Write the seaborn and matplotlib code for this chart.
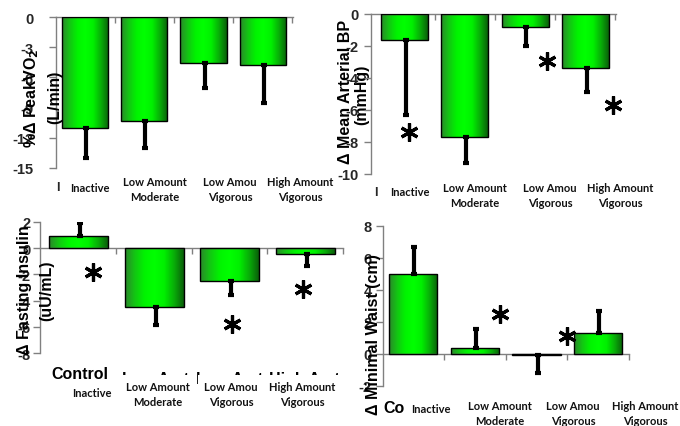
import numpy as np
import matplotlib
matplotlib.use("Agg")
import matplotlib.pyplot as plt
from matplotlib.colors import LinearSegmentedColormap
import seaborn as sns

sns.set_style("white")
plt.rcParams['font.family'] = ['Liberation Sans', 'DejaVu Sans']
plt.rcParams['font.weight'] = 'bold'

# --------------------------
# Data
# --------------------------
groups = ['Inactive', 'Low Amount Moderate', 'Low Amount Vigorous', 'High Amount Vigorous']

vo2 = [-11.0, -10.3, -4.6, -4.8]
vo2_err = [3.0, 2.7, 2.5, 3.7]

mabp = [-1.6, -7.7, -0.8, -3.4]
mabp_err = [4.7, 1.6, 1.2, 1.5]

insulin = [0.9, -4.5, -2.5, -0.45]
insulin_err = [1.05, 1.4, 1.1, 0.9]

waist = [5.0, 0.4, -0.05, 1.3]
waist_err = [1.7, 1.15, 1.15, 1.4]

W, H = 680, 427
fig = plt.figure(figsize=(W / 100, H / 100), dpi=100)

green = LinearSegmentedColormap.from_list(
    'bar_green', ['#2a8a2a', '#12c812', '#00f400', '#00ff00', '#00f000', '#08b008', '#0a620a'])


def fx(x):
    return x / W


def fy(y):
    return 1 - y / H


def add_panel(left, top, right, bottom):
    return fig.add_axes([fx(left), fy(bottom), (right - left) / W, (bottom - top) / H])


def draw_panel(ax, vals, errs, ylim, xlim, yticks, pad):
    sns.barplot(x=groups, y=vals, ax=ax, color='#00ee00', width=0.78,
                edgecolor='black', linewidth=1.0, errorbar=None)
    # green gradient inside each bar
    grad = np.linspace(0, 1, 64).reshape(1, -1)
    for p in ax.patches:
        x0, y0 = p.get_x(), p.get_y()
        w, h = p.get_width(), p.get_height()
        im = ax.imshow(grad, extent=[x0, x0 + w, min(y0, y0 + h), max(y0, y0 + h)],
                       aspect='auto', cmap=green, zorder=2)
        im.set_clip_path(p)
        p.set_facecolor('none')
        p.set_zorder(3)
    # one-sided error bars, pointing away from zero
    v = np.array(vals)
    e = np.array(errs)
    lower = np.where(v < 0, e, 0)
    upper = np.where(v >= 0, e, 0)
    ax.errorbar(np.arange(len(v)) + 0.02, v, yerr=[lower, upper], fmt='none',
                ecolor='black', elinewidth=3.0, capsize=2.0, capthick=3.0, zorder=4)
    ax.set_xlim(*xlim)
    ax.set_ylim(*ylim)
    ax.set_yticks(yticks)
    ax.set_yticklabels([str(t) for t in yticks], fontsize=10.5, fontweight='bold')
    ax.set_xticks([0.5, 1.5, 2.5, 3.5])
    ax.set_xticklabels([])
    ax.set_xlabel('')
    ax.set_ylabel('')
    ax.spines['top'].set_visible(False)
    ax.spines['right'].set_visible(False)
    ax.spines['bottom'].set_position(('data', 0))
    for s in ['left', 'bottom']:
        ax.spines[s].set_color('#808080')
        ax.spines[s].set_linewidth(1.0)
    ax.tick_params(axis='y', direction='out', length=5, width=1, color='#808080', pad=pad, left=True)
    ax.tick_params(axis='x', direction='out', length=4, width=1, color='#808080', bottom=True)
    ax.patch.set_alpha(0)


def stars(ax, xs, ys):
    ax.plot(xs, ys, linestyle='none', marker=(6, 2, 0), markersize=13,
            markeredgewidth=2.3, color='black', zorder=5, clip_on=False)


def ftext(x, y, s, **kw):
    fig.text(fx(x), fy(y), s, **kw)


cat_font = dict(family=['Lato', 'DejaVu Sans'], fontweight='bold', fontsize=8,
                ha='center', va='center', color='#111111')
big_font = dict(fontweight='bold', fontsize=11.5, ha='center', va='center', color='black')
ylab_font = dict(fontweight='bold', fontsize=11.5, ha='center', va='center',
                 rotation=90, color='black')
white_box = dict(facecolor='white', edgecolor='none', pad=4.5)

# ----------------------------------------------------
# 1. Peak VO2
# ----------------------------------------------------
ax1 = add_panel(56, 18, 293, 169)
draw_panel(ax1, vo2, vo2_err, (-15, 0), (-0.49, 3.51), [0, -3, -6, -9, -12, -15], 11)
ftext(32, 98, '%Δ PeakVO$_{\\bf 2}$', **ylab_font)
ftext(55, 97, '(L/min)', **ylab_font)

# ----------------------------------------------------
# 2. Mean arterial BP
# ----------------------------------------------------
ax2 = add_panel(371, 15, 616, 175)
draw_panel(ax2, mabp, mabp_err, (-10, 0), (-0.56, 3.51), [0, -2, -4, -6, -8, -10], 4)
stars(ax2, [0.07, 2.36, 3.46], [-7.4, -2.94, -5.69])
ax2.set_zorder(5)
ftext(346, 92, 'Δ Mean Arterial BP', **ylab_font)
ftext(362, 95, '(mmHg)', **ylab_font)

# ----------------------------------------------------
# 3. Fasting insulin
# ----------------------------------------------------
ax3 = add_panel(40, 223, 343, 354)
draw_panel(ax3, insulin, insulin_err, (-8, 2), (-0.51, 3.5), [2, 0, -2, -4, -6, -8], 2)
stars(ax3, [0.19, 2.03, 2.97], [-1.8, -5.8, -3.1])
ftext(25, 290, 'Δ Fasting Insulin', **ylab_font)
ftext(47, 291, '(uU/mL)', **ylab_font)

# ----------------------------------------------------
# 4. Minimal waist
# ----------------------------------------------------
ax4 = add_panel(383, 227, 629, 387)
draw_panel(ax4, waist, waist_err, (-2, 8), (-0.49, 3.49), [8, 6, 4, 2, 0, -2], 3)
stars(ax4, [1.40, 2.50], [2.48, 1.12])
ftext(373, 335, 'Δ Minimal Waist (cm)', **ylab_font)

# ----------------------------------------------------
# Group labels (overlapping text boxes as on the slide)
# ----------------------------------------------------
ftext(80, 375, 'Control', **big_font)
ftext(155, 380, 'Low Amt', **big_font)
ftext(229, 380, 'Low Amt', **big_font)
ftext(304, 380, 'High Amt', **big_font)
ftext(412, 409, 'Control', **big_font)

ftext(58, 188, 'I', fontweight='bold', fontsize=9, ha='center', va='center')
ftext(376, 193, 'I', fontweight='bold', fontsize=9, ha='center', va='center')

label_rows = [
    # (x centres, y of first line, y of "Inactive") for each panel
    ([90, 155, 230, 300], 182, 188),
    ([410, 475, 550, 620], 188, 193),
    ([92, 158, 231, 302], 387, 394),
    ([431, 500, 573, 645], 406, 410),
]
for xs, y_top, y_inact in label_rows:
    ftext(xs[0], y_inact, 'Inactive', bbox=white_box, **cat_font)
    ftext(xs[1], y_top + 8, 'Low Amount\nModerate', bbox=white_box, linespacing=1.5, **cat_font)
    ftext(xs[2], y_top + 8, 'Low Amou\nVigorous', bbox=white_box, linespacing=1.5, **cat_font)
    ftext(xs[3], y_top + 8, 'High Amount\nVigorous', bbox=white_box, linespacing=1.5, **cat_font)

fig.savefig('out.png', dpi=100)
